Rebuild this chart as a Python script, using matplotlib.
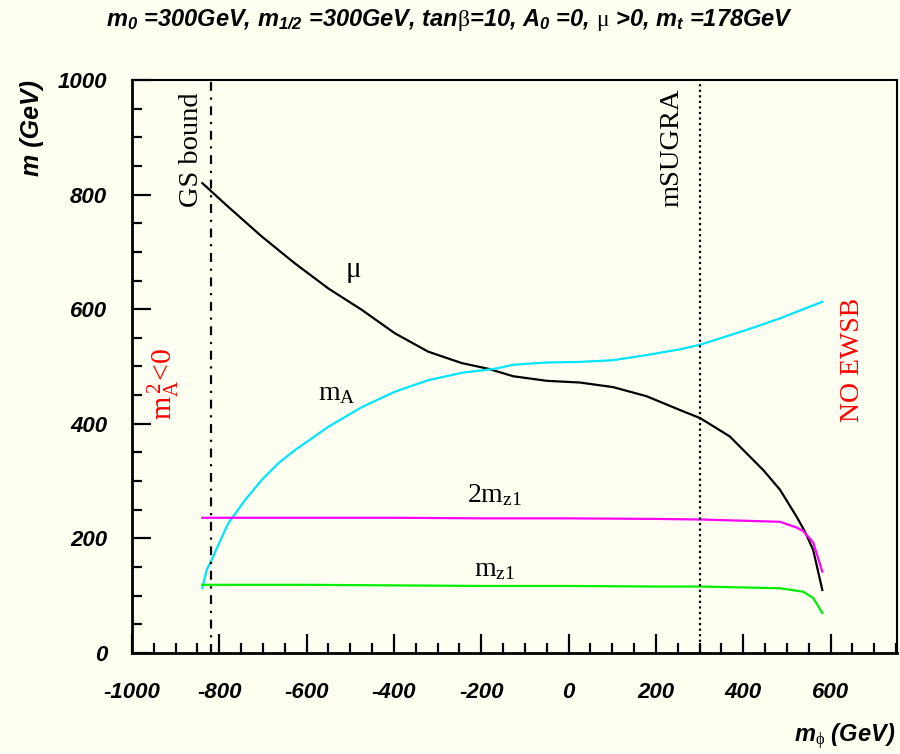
import matplotlib
matplotlib.use("Agg")
import matplotlib.pyplot as plt
from matplotlib.ticker import MultipleLocator

plt.rcParams['mathtext.fontset'] = 'custom'
plt.rcParams['mathtext.it'] = 'Liberation Sans:bold:italic'
plt.rcParams['mathtext.sf'] = 'Liberation Sans:bold:italic'
plt.rcParams['mathtext.rm'] = 'Liberation Serif'
plt.rcParams['mathtext.bf'] = 'Liberation Sans:bold'
plt.rcParams['axes.unicode_minus'] = False

# Data
mu_x = [-839, -780, -703, -627, -550, -474, -398, -322, -245, -184, -127, -50, 26, 102, 179, 255, 301, 369, 446, 484, 522, 541, 560, 581]
mu_y = [820, 779, 727, 680, 636, 599, 558, 526, 506, 496, 483, 475, 472, 464, 448, 424, 410, 378, 319, 285, 238, 212, 180, 110]

ma_x = [-839, -829, -818, -780, -741, -703, -665, -627, -550, -474, -398, -322, -245, -169, -127, -50, 26, 102, 179, 255, 301, 408, 484, 581]
ma_y = [113, 145, 162, 226, 267, 302, 331, 354, 395, 429, 456, 476, 489, 496, 503, 507, 508, 511, 520, 530, 538, 564, 584, 613]

mz2_x = [-839, -600, -400, -200, 0, 200, 301, 484, 522, 537, 560, 581]
mz2_y = [236, 236, 236, 235, 235, 234, 233, 229, 219, 213, 193, 142]

mz1_x = [-839, -600, -400, -200, 0, 200, 301, 484, 537, 560, 581]
mz1_y = [119, 119, 118, 117, 117, 116, 116, 113, 107, 96, 70]

gs_bound = -818
msugra = 300

bg = '#fffff2'
fig = plt.figure(figsize=(9, 7.54), dpi=100, facecolor=bg)
ax = fig.add_axes([132/900, 1-653/754, (897-132)/900, (653-80)/754], facecolor=bg)

ax.plot(mu_x, mu_y, color='black', lw=1.6)
ax.plot(ma_x, ma_y, color='#00e5ff', lw=1.6)
ax.plot(mz2_x, mz2_y, color='#ff00ff', lw=1.6)
ax.plot(mz1_x, mz1_y, color='#00ee00', lw=1.6)

ax.axvline(gs_bound, color='black', lw=1.6, linestyle=(0, (4, 3, 1, 3)))
ax.axvline(msugra, color='black', lw=1.6, linestyle=(0, (1, 1.5)))

ax.set_xlim(-1000, 752)
ax.set_ylim(0, 1000)
ax.xaxis.set_major_locator(MultipleLocator(200))
ax.xaxis.set_minor_locator(MultipleLocator(50))
ax.yaxis.set_major_locator(MultipleLocator(200))
ax.yaxis.set_minor_locator(MultipleLocator(50))
ax.tick_params(which='both', direction='in', top=False, right=False, width=1.6)
ax.tick_params(which='major', length=14)
ax.tick_params(which='minor', length=7)
ax.tick_params(axis='x', pad=21)
ax.tick_params(axis='y', pad=18)
for lab in ax.get_xticklabels() + ax.get_yticklabels():
    lab.set_fontfamily('Liberation Sans')
    lab.set_fontweight('bold')
    lab.set_fontstyle('italic')
    lab.set_fontsize(16)
for s in ['left', 'bottom']:
    ax.spines[s].set_linewidth(2)
for s in ['top', 'right']:
    ax.spines[s].set_linewidth(1.5)

hfont = dict(family='Liberation Sans', weight='bold', style='italic')
fig.text(0.5, 1-20/754,
         r'$m_{\mathsf{0}}$ =300GeV, $m_{\mathsf{1/2}}$ =300GeV, tan$\mathrm{\beta}$=10, '
         r'$A_{\mathsf{0}}$ =0, $\mathrm{\mu}$ >0, $m_{\mathsf{t}}$ =178GeV',
         ha='center', va='center', fontsize=17, **hfont)

fig.text(32/900, 1-128/754, 'm (GeV)', rotation=90, ha='center', va='center', fontsize=18, **hfont)
fig.text(895/900, 1-737/754, r'$m_{\mathrm{\phi}}$ (GeV)', ha='right', va='center', fontsize=17, **hfont)

sfont = dict(family='Liberation Serif')
ax.text(-836, 1000 - (92-80)/0.573, 'GS bound', rotation=90, ha='right', va='top', fontsize=20.5, **sfont)
ax.text(265, 1000 - (88-80)/0.573, 'mSUGRA', rotation=90, ha='right', va='top', fontsize=20.5, **sfont)
ax.text(651, 511, 'NO EWSB', rotation=90, ha='center', va='center', fontsize=20, color='red', **sfont)
ax.text(-929, 469, r'$\mathrm{m_A^{\,2}}$<0', rotation=90, ha='center', va='center', fontsize=21.5, color='red', **sfont)
ax.text(-493, 665, r'$\mathrm{\mu}$', ha='center', va='center', fontsize=21, **sfont)
ax.text(-530, 453, r'$\mathrm{m_A}$', ha='center', va='center', fontsize=20, **sfont)
ax.text(-170, 275, r'$\mathrm{2m_{z1}}$', ha='center', va='center', fontsize=20, **sfont)
ax.text(-170, 145, r'$\mathrm{m_{z1}}$', ha='center', va='center', fontsize=20, **sfont)

fig.savefig('out.png', dpi=100, facecolor=bg)
